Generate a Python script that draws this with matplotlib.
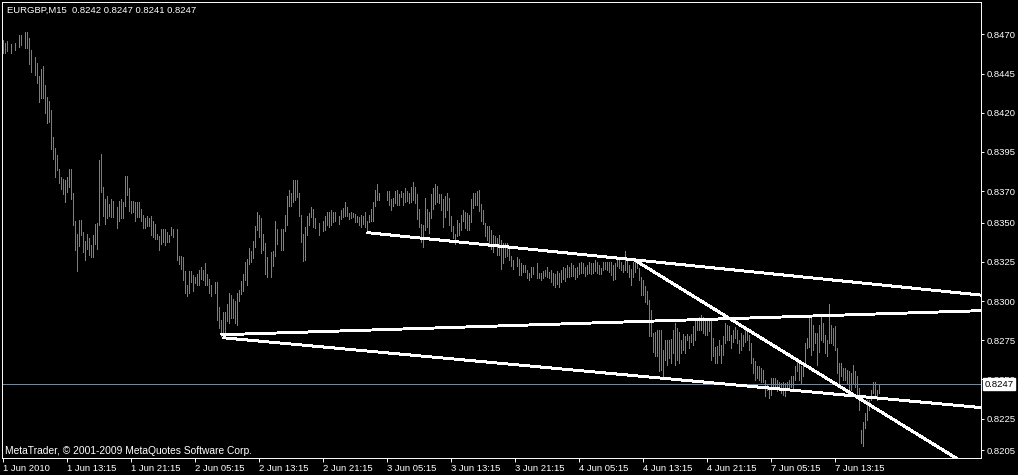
import numpy as np
import matplotlib
matplotlib.use("Agg")
from matplotlib import pyplot as plt
from matplotlib.transforms import blended_transform_factory

plt.rcParams['font.family'] = ['Liberation Sans', 'DejaVu Sans']

SYMBOL = "EURGBP,M15"
LAST_OHLC = [0.8242, 0.8247, 0.8241, 0.8247]
BID = 0.8247

# one bar per 15 minutes (None = bar not visible)
highs = [
    0.84663, 0.84646, 0.84657, None, 0.84638, None, 0.84642, None, 0.84695, 0.84695,
    None, 0.84717, 0.84717, 0.84678, 0.84600, None, 0.84555, 0.84515, 0.84434, 0.84479,
    0.84498, 0.84377, 0.84300, 0.84275, 0.84217, 0.84045, 0.83973, 0.83931, 0.83841, 0.83790,
    0.83778, 0.83771, 0.83790, 0.83841, 0.83841, 0.83691, 0.83510, 0.83427, 0.83516, 0.83516,
    0.83438, 0.83383, 0.83427, 0.83400, 0.83357, 0.83421, 0.83491, 0.83497, 0.83899, 0.83937,
    0.83727, 0.83650, 0.83667, 0.83621, 0.83650, 0.83638, None, 0.83600, 0.83638, 0.83651,
    0.83632, 0.83798, 0.83798, 0.83721, 0.83638, 0.83638, 0.83632, 0.83632, 0.83632, 0.83587,
    0.83549, 0.83530, 0.83543, 0.83530, 0.83543, 0.83511, 0.83488, 0.83430, 0.83417, 0.83462,
    0.83456, 0.83462, 0.83437, 0.83422, 0.83473, 0.83462, None, 0.83462, 0.83288, 0.83288,
    0.83281, 0.83194, 0.83105, 0.83194, 0.83194, 0.83163, 0.83156, 0.83173, 0.83199, 0.83218,
    0.83199, 0.83243, 0.83173, 0.83143, 0.83105, None, 0.83122, 0.83122, 0.82963, 0.82880,
    0.82931, 0.82931, 0.82982, 0.83052, 0.83039, 0.83014, 0.83001, 0.83052, 0.83071, 0.83129,
    0.83173, 0.83250, 0.83269, 0.83339, 0.83320, 0.83384, 0.83479, 0.83568, 0.83549, 0.83530,
    0.83428, 0.83371, 0.83282, None, 0.83313, 0.83320, 0.83511, 0.83460, None, 0.83460,
    0.83460, 0.83549, 0.83670, 0.83709, 0.83689, 0.83772, 0.83772, 0.83772, 0.83689, 0.83549,
    0.83428, 0.83473, 0.83543, 0.83562, 0.83600, 0.83587, 0.83530, None, 0.83498, None,
    0.83511, 0.83543, 0.83568, 0.83568, 0.83581, 0.83568, 0.83568, None, 0.83543, 0.83581,
    0.83594, 0.83632, 0.83600, 0.83562, 0.83568, 0.83562, 0.83555, 0.83543, 0.83536, 0.83549,
    0.83543, 0.83568, 0.83511, 0.83549, 0.83587, 0.83632, 0.83708, 0.83747, 0.83689, None,
    None, None, 0.83702, 0.83702, 0.83651, 0.83657, 0.83702, 0.83708, 0.83683, 0.83702,
    0.83689, 0.83721, 0.83702, 0.83689, 0.83728, 0.83759, 0.83728, 0.83683, 0.83587, 0.83492,
    0.83485, 0.83657, 0.83587, 0.83568, 0.83683, 0.83721, 0.83747, 0.83734, 0.83683, 0.83683,
    0.83651, 0.83670, 0.83689, 0.83657, 0.83543, 0.83479, 0.83428, 0.83517, 0.83498, 0.83549,
    0.83581, 0.83568, 0.83562, 0.83549, 0.83651, 0.83689, 0.83689, 0.83702, 0.83708, 0.83619,
    0.83581, 0.83498, 0.83479, 0.83479, 0.83453, 0.83422, 0.83415, 0.83402, 0.83422, 0.83390,
    0.83371, 0.83371, 0.83371, 0.83345, 0.83288, 0.83262, None, 0.83281, 0.83269, 0.83243,
    0.83230, 0.83230, 0.83199, 0.83179, 0.83218, 0.83218, None, 0.83243, 0.83179, 0.83179,
    0.83192, 0.83199, 0.83218, 0.83186, 0.83199, 0.83180, 0.83170, 0.83190, 0.83180, 0.83200,
    0.83220, 0.83210, 0.83230, 0.83220, 0.83240, 0.83230, 0.83210, 0.83220, 0.83240, 0.83250,
    0.83240, 0.83220, 0.83230, 0.83250, 0.83240, 0.83240, 0.83260, 0.83250, 0.83230, 0.83212,
    0.83250, 0.83250, 0.83250, 0.83250, 0.83250, 0.83231, 0.83243, 0.83263, 0.83263, 0.83250,
    0.83231, 0.83320, 0.83263, 0.83231, 0.83205, 0.83250, 0.83263, 0.83263, 0.83212, 0.83154,
    0.83135, 0.83093, 0.83061, 0.83008, 0.82944, 0.82795, 0.82804, 0.82817, 0.82817, 0.82817,
    0.82689, 0.82753, 0.82753, 0.82753, 0.82759, 0.82817, 0.82861, 0.82825, 0.82804, 0.82753,
    0.82791, 0.82774, 0.82791, 0.82778, 0.82791, 0.82838, 0.82880, 0.82870, 0.82901, 0.82912,
    0.82901, 0.82891, 0.82880, 0.82880, 0.82880, 0.82763, 0.82710, 0.82715, 0.82753, 0.82721,
    0.82774, 0.82859, 0.82848, 0.82838, 0.82785, 0.82817, 0.82834, 0.82817, 0.82753, 0.82795,
    0.82785, 0.82817, 0.82817, 0.82785, 0.82732, 0.82636, 0.82615, 0.82583, 0.82583, 0.82572,
    0.82562, 0.82498, 0.82466, 0.82455, 0.82509, 0.82509, 0.82509, 0.82498, 0.82487, 0.82477,
    0.82487, 0.82477, 0.82487, 0.82498, 0.82519, 0.82519, 0.82583, 0.82625, 0.82615, 0.82583,
    0.82604, 0.82732, 0.82763, 0.82891, 0.82891, 0.82848, 0.82795, 0.82795, 0.82848, 0.82901,
    0.82859, 0.82785, 0.82753, 0.82982, 0.82848, 0.82827, 0.82838, 0.82700, 0.82604, 0.82604,
    0.82572, 0.82572, 0.82562, 0.82551, 0.82540, 0.82594, 0.82551, 0.82519, 0.82445, 0.82179,
    0.82231, 0.82286, 0.82369, 0.82370, 0.82434, 0.82487, 0.82487, 0.82434, 0.82472,
]
lows = [
    0.84583, 0.84583, 0.84593, None, 0.84583, None, 0.84600, None, 0.84621, 0.84632,
    None, 0.84615, 0.84615, 0.84510, 0.84462, None, 0.84440, 0.84392, 0.84271, 0.84296,
    0.84296, 0.84200, 0.84137, 0.84143, 0.83971, 0.83907, 0.83793, 0.83835, 0.83754, 0.83716,
    0.83684, 0.83633, 0.83697, 0.83725, 0.83652, 0.83485, 0.83325, 0.83194, 0.83353, 0.83421,
    0.83315, 0.83264, 0.83334, 0.83294, 0.83279, 0.83283, 0.83366, 0.83334, 0.83485, 0.83697,
    0.83544, 0.83493, 0.83527, 0.83542, 0.83538, 0.83538, None, 0.83468, 0.83513, 0.83526,
    0.83526, 0.83606, 0.83677, 0.83575, 0.83558, 0.83570, 0.83513, 0.83538, 0.83538, 0.83513,
    0.83468, 0.83468, 0.83481, 0.83481, 0.83424, 0.83411, 0.83398, 0.83398, 0.83328, 0.83366,
    0.83377, 0.83354, 0.83379, 0.83379, 0.83424, 0.83405, None, 0.83264, 0.83239, 0.83207,
    0.83137, 0.83054, 0.83035, 0.83054, 0.83122, 0.83067, 0.83118, 0.83105, 0.83105, 0.83143,
    0.83135, 0.83099, 0.83099, 0.83054, 0.83029, None, 0.83048, 0.82876, 0.82825, 0.82780,
    0.82791, 0.82791, 0.82870, 0.82857, 0.82889, 0.82889, 0.82857, 0.82850, 0.82997, 0.83046,
    0.83067, 0.83135, 0.83099, 0.83239, 0.83246, 0.83277, 0.83345, 0.83454, 0.83411, 0.83309,
    0.83326, 0.83175, 0.83150, None, 0.83156, 0.83226, 0.83284, 0.83364, None, 0.83326,
    0.83326, 0.83447, 0.83486, 0.83607, 0.83607, 0.83632, 0.83645, 0.83666, 0.83539, 0.83379,
    0.83258, 0.83263, 0.83422, 0.83486, 0.83537, 0.83473, 0.83466, None, 0.83422, None,
    0.83447, 0.83454, 0.83486, 0.83473, 0.83486, 0.83505, 0.83511, None, 0.83492, 0.83524,
    0.83536, 0.83543, 0.83543, 0.83524, 0.83530, 0.83536, 0.83505, 0.83505, 0.83485, 0.83473,
    0.83492, 0.83473, 0.83441, 0.83505, 0.83511, 0.83511, 0.83606, 0.83645, 0.83645, None,
    None, None, 0.83645, 0.83613, 0.83581, 0.83606, 0.83626, 0.83613, 0.83613, 0.83664,
    0.83613, 0.83632, 0.83638, 0.83626, 0.83632, 0.83645, 0.83626, 0.83524, 0.83473, 0.83377,
    0.83345, 0.83454, 0.83473, 0.83434, 0.83530, 0.83587, 0.83619, 0.83632, 0.83626, 0.83581,
    0.83473, 0.83536, 0.83581, 0.83485, 0.83447, 0.83402, 0.83364, 0.83415, 0.83422, 0.83453,
    0.83511, 0.83466, 0.83453, 0.83453, 0.83504, 0.83594, 0.83613, 0.83613, 0.83574, 0.83511,
    0.83492, 0.83415, 0.83390, 0.83364, 0.83332, 0.83313, 0.83358, 0.83294, 0.83294, 0.83205,
    0.83243, 0.83281, 0.83288, 0.83262, 0.83224, 0.83205, None, 0.83224, 0.83167, 0.83167,
    0.83186, 0.83186, 0.83148, 0.83135, 0.83154, 0.83173, None, 0.83148, 0.83148, 0.83135,
    0.83148, 0.83160, 0.83154, 0.83148, 0.83122, 0.83100, 0.83090, 0.83110, 0.83090, 0.83120,
    0.83140, 0.83130, 0.83150, 0.83150, 0.83160, 0.83160, 0.83140, 0.83150, 0.83170, 0.83180,
    0.83180, 0.83160, 0.83170, 0.83180, 0.83170, 0.83180, 0.83190, 0.83180, 0.83170, 0.83173,
    0.83199, 0.83207, 0.83199, 0.83186, 0.83167, 0.83135, 0.83141, 0.83224, 0.83212, 0.83199,
    0.83186, 0.83199, 0.83186, 0.83154, 0.83103, 0.83154, 0.83186, 0.83212, 0.83135, 0.83040,
    0.83040, 0.82995, 0.82982, 0.82774, 0.82774, 0.82678, 0.82647, 0.82647, 0.82555, 0.82562,
    0.82519, 0.82625, 0.82594, 0.82636, 0.82604, 0.82668, 0.82594, 0.82625, 0.82604, 0.82668,
    0.82689, 0.82668, 0.82753, 0.82700, 0.82742, 0.82721, 0.82753, 0.82817, 0.82817, 0.82817,
    0.82795, 0.82785, 0.82785, 0.82806, 0.82625, 0.82647, 0.82604, 0.82608, 0.82657, 0.82608,
    0.82657, 0.82732, 0.82753, 0.82749, 0.82700, 0.82740, 0.82763, 0.82732, 0.82668, 0.82689,
    0.82715, 0.82736, 0.82753, 0.82689, 0.82604, 0.82540, 0.82498, 0.82509, 0.82498, 0.82487,
    0.82487, 0.82392, 0.82434, 0.82381, 0.82402, 0.82445, 0.82445, 0.82424, 0.82434, 0.82413,
    0.82402, 0.82392, 0.82434, 0.82455, 0.82455, 0.82445, 0.82498, 0.82551, 0.82498, 0.82472,
    0.82519, 0.82594, 0.82700, 0.82710, 0.82657, 0.82689, 0.82732, 0.82594, 0.82678, 0.82753,
    0.82742, 0.82668, 0.82647, 0.82732, 0.82732, 0.82721, 0.82689, 0.82540, 0.82466, 0.82519,
    0.82498, 0.82498, 0.82477, 0.82434, 0.82434, 0.82477, 0.82455, 0.82392, 0.82307, 0.82097,
    0.82076, 0.82190, 0.82241, 0.82307, 0.82370, 0.82413, 0.82402, 0.82366, 0.82413,
]
# u = bar up (close >= open), d = bar down, - = no bar
dirs = """
d d d - u - d - u d   - u d d d - d d d u   d d u d d d d d d d   d u u u d d d d u d
d u d d d u d u u d   d u d u d d - d u d   u u d d d d d u d d   d u u u d u d d d u
u d d u u d - d d d   d d d u d d u d u d   d d d d d - u d d d   d u d u d d d u u u
u d u u d u u u d d   u d u - d u u d - d   u u u u d u d d d d   d u u u u d d - d -
u u u u d u d - u u   d u d u d d d u d u   u d d u u u u d u -   - - d d d u u d u u
d d d u u d d d d d   u u d u u u u d u d   d u d d d d u u d u   u d d u u u d u d d
d d d d d u d d d d   u d d d d u - u d u   u d d u u d - d d u   u d d d d u d u d u
u d u d u d d u u u   d d u u d u u d d u   u d u d d u u u d d   u u d u u d u d d d
d d d d d d u u d d   u u u d u d u d d d   u u u d d u u u u u   d u d u d d u d d u
d u d u u u d d d d   u d d d d d d u d d   u d d u u u d u d d   d u u d u u u d d u
u u u u d u u d d u   d u d u d d d d d u   d d u d u d d d d u   u u u u u u d u u
""".split()

time_labels = ["1 Jun 2010", "1 Jun 13:15", "1 Jun 21:15", "2 Jun 05:15", "2 Jun 13:15",
               "2 Jun 21:15", "3 Jun 05:15", "3 Jun 13:15", "3 Jun 21:15", "4 Jun 05:15",
               "4 Jun 13:15", "4 Jun 21:15", "7 Jun 05:15", "7 Jun 13:15"]
BARS_PER_LABEL = 32

price_ticks = [0.8470, 0.8445, 0.8420, 0.8395, 0.8370, 0.8350, 0.8325,
               0.8300, 0.8275, 0.8250, 0.8225, 0.8205]

# trend lines drawn by hand on the chart: two anchor points each (bar, price), ray to the right
tl_bar1 = [110, 109, 182, 315]
tl_price1 = [0.82766, 0.82785, 0.83436, 0.83268]
tl_bar2 = [448, 448, 448, 448]
tl_price2 = [0.82369, 0.82922, 0.83091, 0.82223]

COL_UP = "#3cb43c"
COL_DOWN = "#e8581c"
FS = 6.8
PX = 0.7  # ~1 pixel at 100 dpi

assert len(highs) == len(lows) == len(dirs)

fig = plt.figure(figsize=(10.18, 4.75), dpi=100, facecolor="black")
ax = fig.add_axes([2 / 1018, 17 / 475, 979 / 1018, 456 / 475], facecolor="black")

x = np.arange(len(highs))
hi = np.array(highs, dtype=float)
lo = np.array(lows, dtype=float)
d = np.array(dirs)
ok = d != "-"
cols = np.where(d == "u", COL_UP, COL_DOWN)
ax.vlines(x[ok], lo[ok], hi[ok], colors=cols[ok], linewidth=PX, antialiased=False)

x_right = 489
ax.set_xlim(-0.5, x_right)
ax.set_ylim(0.819995, 0.849059)

ax.axhline(BID, color="#778899", linewidth=PX, antialiased=False)

for b1, p1, b2, p2 in zip(tl_bar1, tl_price1, tl_bar2, tl_price2):
    k = (p2 - p1) / (b2 - b1)
    ax.plot([b1, x_right], [p1, p1 + k * (x_right - b1)], color="white",
            linewidth=1.4, antialiased=False, solid_capstyle="butt")

# axes look
for s in ax.spines.values():
    s.set_color("white")
    s.set_linewidth(PX)

ax.yaxis.tick_right()
ax.set_yticks(price_ticks)
ax.set_yticklabels([f"{p:.4f}" for p in price_ticks])
ax.tick_params(axis="y", direction="out", length=2, width=PX, colors="white",
               labelsize=FS, pad=2)

ax.set_xticks(np.arange(len(time_labels)) * BARS_PER_LABEL)
ax.set_xticklabels(time_labels)
for lbl in ax.get_xticklabels():
    lbl.set_horizontalalignment("left")
ax.tick_params(axis="x", direction="out", length=3, width=PX, colors="white",
               labelsize=FS, pad=1.5)

# current price marker on the scale (covers the 0.8250 label, as in MetaTrader)
blend = blended_transform_factory(ax.transAxes, ax.transData)
ax.annotate(f"{BID:.4f}", xy=(1, BID), xycoords=blend, xytext=(2.5, 0),
            textcoords="offset points", ha="left", va="center", fontsize=FS,
            color="black", annotation_clip=False,
            bbox=dict(boxstyle="square,pad=0.15", fc="white", ec="white"))

fig.text(7 / 1018, 1 - 6 / 475,
         SYMBOL + "  " + " ".join(f"{v:.4f}" for v in LAST_OHLC),
         color="white", fontsize=FS, ha="left", va="top")
fig.text(5 / 1018, (475 - 454) / 475,
         "MetaTrader, © 2001-2009 MetaQuotes Software Corp.",
         color="white", fontsize=7.4, ha="left", va="baseline")

fig.savefig("out.png", dpi=100, facecolor="black")
